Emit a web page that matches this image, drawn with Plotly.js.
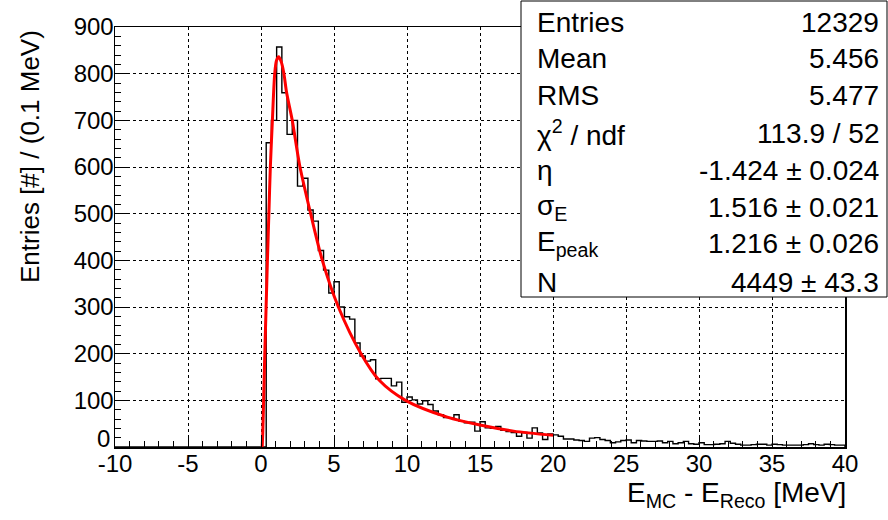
<!DOCTYPE html>
<html>
<head>
<meta charset="utf-8">
<script src="https://cdn.plot.ly/plotly-3.0.1.min.js"></script>
<style>html,body{margin:0;padding:0;background:#fff;}#chart{width:888px;height:520px;}</style>
</head>
<body>
<div id="chart"></div>
<script>
// ---- data ----
const xRange = [-10, 40];
const yRange = [0, 900];
const nBinsTotal = 140;          // histogram binning over [-10, 40]
const firstFilledBin = 29;       // index of first non-empty bin
const counts = [
  652, 700, 857, 759, 670, 700, 559, 576, 508, 484,
  421, 379, 330, 354, 300, 279, 274, 223, 195, 184,
  187, 146, 147, 147, 131, 139, 96, 107, 101, 92,
  99, 91, 77, 69, 63, 63, 69, 55, 52, 53,
  34, 54, 41, 40, 44, 36, 33, 31, 23, 31,
  19, 41, 30, 16, 28, 26, 23, 17, 17, 15,
  14, 12, 19, 20, 16, 14, 9, 11, 14, 15,
  9, 14, 13, 12, 12, 13, 9, 12, 7, 9,
  12, 7, 6, 9, 5, 5, 6, 7, 12, 8,
  6, 4, 4, 5, 6, 6, 4, 6, 5, 4,
  4, 4, 4, 5, 7, 5, 4, 6, 5, 4, 4
];
const fitX = [0.08, 0.12, 0.18, 0.26, 0.35, 0.44, 0.54, 0.64, 0.78, 0.94, 1.06, 1.21, 1.38, 1.57, 1.75, 2.14, 2.64, 3.4, 4.2, 5.3, 6.85, 8.1, 9.9, 12.76, 15.0, 17.3, 20.0];
const fitY = [0, 30, 100, 200, 300, 400, 500, 600, 700, 800, 828, 836, 826, 800, 760, 700, 605, 500, 400, 300, 200, 143, 100, 64, 47, 34, 25];
const xTicks = [-10, -5, 0, 5, 10, 15, 20, 25, 30, 35, 40];
const xTickText = ["-10", "-5", "0", "5", "10", "15", "20", "25", "30", "35", "40"];
const yTicks = [0, 100, 200, 300, 400, 500, 600, 700, 800, 900];
const yTickText = ["", "100", "200", "300", "400", "500", "600", "700", "800", "900"];
const yZeroLabel = "0";   // drawn slightly raised, as in the reference
const statsLabels = ["Entries", "Mean", "RMS", "χ<sup>2</sup> / ndf", "η", "σ<sub>E</sub>", "E<sub>peak</sub>", "N"];
const statsValues = ["12329", "5.456", "5.477", "113.9 / 52", "-1.424 ± 0.024", "1.516 ± 0.021", "1.216 ± 0.026", "4449 ± 43.3"];
const yTitle = "Entries [#] / (0.1 MeV)";
const xTitle = "E<sub>MC</sub> - E<sub>Reco</sub> [MeV]";

// ---- build histogram outline ----
const binW = (xRange[1] - xRange[0]) / nBinsTotal;
const hx = [xRange[0]], hy = [0];
counts.forEach((c, i) => { hx.push(xRange[0] + (firstFilledBin + i) * binW); hy.push(c); });
hx.push(xRange[0] + (firstFilledBin + counts.length) * binW); hy.push(0);

const FONT = "Liberation Sans, Arial, Helvetica, sans-serif";
const W = 888, H = 520, L = 115, R = 43, T = 27, B = 73;
const PW = W - L - R, PH = H - T - B;
const px = x => (x - L) / PW;
const py = y => (H - B - y) / PH;

const traces = [
  {x: hx, y: hy, type: 'scatter', mode: 'lines', line: {shape: 'hv', color: '#000', width: 1.4}, hoverinfo: 'skip'},
  {x: fitX, y: fitY, type: 'scatter', mode: 'lines', line: {shape: 'spline', smoothing: 0.8, color: '#ff0000', width: 3}, hoverinfo: 'skip'}
];

const ax = {
  showline: true, linecolor: '#000', linewidth: 1.5, mirror: true,
  ticks: 'inside', ticklen: 12, tickwidth: 1, tickcolor: '#000',
  showgrid: true, gridcolor: '#000', griddash: 'dot', gridwidth: 1,
  zeroline: false, tickfont: {family: FONT, size: 24, color: '#000'}, fixedrange: true
};

const annotations = [];
const rowY = [22, 59, 96, 133, 170, 207, 244, 282];
statsLabels.forEach((t, i) => {
  annotations.push({xref: 'paper', yref: 'paper', x: px(535), y: py(rowY[i]), xanchor: 'left', yanchor: 'middle', text: t, showarrow: false, font: {family: FONT, size: 28, color: '#000'}});
  annotations.push({xref: 'paper', yref: 'paper', x: px(881), y: py(rowY[i]), xanchor: 'right', yanchor: 'middle', text: statsValues[i], showarrow: false, font: {family: FONT, size: 28, color: '#000'}});
});
annotations.push({xref: 'paper', yref: 'paper', x: px(30), y: py(157), xanchor: 'center', yanchor: 'middle', textangle: -90, text: yTitle, showarrow: false, font: {family: FONT, size: 26, color: '#000'}});
annotations.push({xref: 'paper', yref: 'paper', x: px(848), y: py(494), xanchor: 'right', yanchor: 'middle', text: xTitle, showarrow: false, font: {family: FONT, size: 28, color: '#000'}});
annotations.push({xref: 'paper', yref: 'paper', x: px(111), y: py(453), xanchor: 'right', yanchor: 'bottom', text: yZeroLabel, showarrow: false, font: {family: FONT, size: 24, color: '#000'}, borderpad: 0});

const layout = {
  width: W, height: H, margin: {l: L, r: R, t: T, b: B},
  paper_bgcolor: '#fff', plot_bgcolor: '#fff', showlegend: false,
  xaxis: Object.assign({}, ax, {range: xRange, tickmode: 'array', tickvals: xTicks, ticktext: xTickText, ticklabelstandoff: -5,
    minor: {dtick: 1, ticks: 'inside', ticklen: 6, tickcolor: '#000', tickwidth: 1, showgrid: false}}),
  yaxis: Object.assign({}, ax, {range: yRange, tickmode: 'array', tickvals: yTicks, ticktext: yTickText, ticklabelstandoff: -5,
    minor: {dtick: 20, ticks: 'inside', ticklen: 6, tickcolor: '#000', tickwidth: 1, showgrid: false}}),
  shapes: [{type: 'rect', xref: 'paper', yref: 'paper', x0: px(521), x1: px(887), y0: py(297), y1: py(1), fillcolor: '#fff', line: {color: '#000', width: 1}, layer: 'above'}],
  annotations: annotations
};

Plotly.newPlot('chart', traces, layout, {displayModeBar: false, staticPlot: true});
</script>
</body>
</html>
